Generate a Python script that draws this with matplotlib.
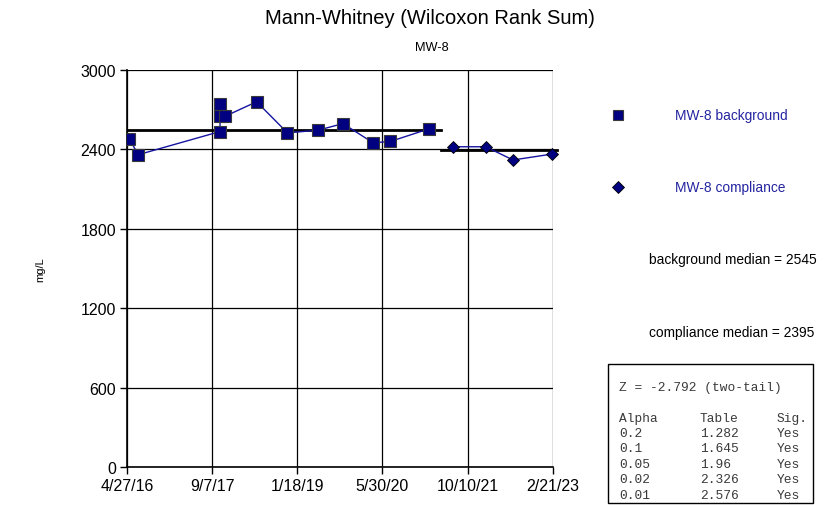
import matplotlib
matplotlib.use("Agg")
import matplotlib.pyplot as plt
import matplotlib.dates as mdates
import pandas as pd

plt.rcParams["font.family"] = ["Liberation Sans", "DejaVu Sans"]

# MW-8 sample results, mg/L (in the order they are joined by the line)
bg_dates = ["2016-05-10", "2016-07-02", "2017-10-23", "2017-10-23", "2017-10-23",
            "2017-11-21", "2018-05-25", "2018-11-21", "2019-05-19", "2019-10-12",
            "2020-04-05", "2020-07-15", "2021-02-25"]
bg_values = [2480, 2360, 2535, 2740, 2650, 2650, 2760, 2525, 2545, 2595, 2450, 2460, 2555]
comp_dates = ["2021-07-17", "2022-01-24", "2022-07-02", "2023-02-17"]
comp_values = [2420, 2420, 2320, 2365]

bg_median = 2545
comp_median = 2395
bg_median_span = ["2016-04-27", "2021-05-06"]
comp_median_span = ["2021-05-08", "2023-03-15"]

x_ticks = ["2016-04-27", "2017-09-07", "2019-01-18", "2020-05-30", "2021-10-10", "2023-02-21"]
x_tick_labels = ["4/27/16", "9/7/17", "1/18/19", "5/30/20", "10/10/21", "2/21/23"]
y_ticks = [0, 600, 1200, 1800, 2400, 3000]

z_stat = -2.792
alphas = ["0.2", "0.1", "0.05", "0.02", "0.01"]
table_vals = ["1.282", "1.645", "1.96", "2.326", "2.576"]
sig = ["Yes", "Yes", "Yes", "Yes", "Yes"]

navy = "#000080"
line_blue = "#1414a0"
label_blue = "#2424a0"
W, H = 837, 506


def fx(px):
    return px / W


def fy(py):
    return 1 - py / H


fig = plt.figure(figsize=(W / 100, H / 100), dpi=100)
ax = fig.add_axes([fx(127), fy(468), 426 / W, 397 / H])

ax.plot(pd.to_datetime(bg_dates), bg_values, color=line_blue, lw=1.0, marker="s",
        ms=8.2, mfc=navy, mec="#3a3a3a", mew=0.8, zorder=4)
ax.plot(pd.to_datetime(comp_dates), comp_values, color=line_blue, lw=1.0, marker="D",
        ms=6.5, mfc=navy, mec="black", mew=0.6, zorder=4, clip_on=False)

ax.plot(pd.to_datetime(bg_median_span), [bg_median] * 2, color="black", lw=2, zorder=2)
ax.plot(pd.to_datetime(comp_median_span), [comp_median] * 2, color="black", lw=2,
        zorder=2, clip_on=False)

xt = mdates.date2num(pd.to_datetime(x_ticks))
ax.set_xlim(xt[0], xt[-1])
ax.set_ylim(0, 3000)
ax.set_xticks(xt)
ax.set_xticklabels(x_tick_labels, fontsize=11.5)
ax.set_yticks(y_ticks)
ax.set_yticklabels([str(v) for v in y_ticks], fontsize=11.5)
ax.tick_params(axis="both", direction="out", length=5, width=1, pad=3)
ax.grid(True, color="black", lw=0.9)
for side in ["top", "right"]:
    ax.spines[side].set_visible(False)
for side in ["left", "bottom"]:
    ax.spines[side].set_linewidth(1.2)

fig.text(fx(430), fy(19), "Mann-Whitney (Wilcoxon Rank Sum)", ha="center",
         va="center", fontsize=14.5)
fig.text(fx(432), fy(48), "MW-8", ha="center", va="center", fontsize=9.2)
fig.text(fx(40), fy(270), "mg/L", ha="center", va="center", rotation=90, fontsize=8)

# legend drawn by hand at the right of the plot
fig.lines.append(plt.Line2D([fx(618)], [fy(116)], transform=fig.transFigure,
                            marker="s", ms=7.4, mfc=navy, mec="#3a3a3a", mew=0.8, ls="none"))
fig.lines.append(plt.Line2D([fx(618)], [fy(188)], transform=fig.transFigure,
                            marker="D", ms=6.0, mfc=navy, mec="black", mew=0.6, ls="none"))
fig.text(fx(675), fy(116), "MW-8 background", ha="left", va="center",
         fontsize=9.9, color=label_blue)
fig.text(fx(675), fy(188), "MW-8 compliance", ha="left", va="center",
         fontsize=9.9, color=label_blue)
fig.text(fx(649), fy(260), f"background median = {bg_median}", ha="left",
         va="center", fontsize=9.9)
fig.text(fx(649), fy(333), f"compliance median = {comp_median}", ha="left",
         va="center", fontsize=9.9)

# significance table
box = plt.Rectangle((fx(608), fy(504)), 205 / W, 139 / H,
                    transform=fig.transFigure, fill=False, ec="black", lw=1)
fig.patches.append(box)
mono = dict(family=["Liberation Mono", "DejaVu Sans Mono"], fontsize=9.3,
            color="#3a3a3a", va="center")
cols = [619, 700, 777]
fig.text(fx(cols[0]), fy(388), f"Z = {z_stat} (two-tail)", **mono)
for x, head in zip(cols, ["Alpha", "Table", "Sig."]):
    fig.text(fx(x), fy(419), head, **mono)
for i, (a, t, s) in enumerate(zip(alphas, table_vals, sig)):
    y = fy(434 + 15.5 * i)
    fig.text(fx(cols[0]), y, a, **mono)
    fig.text(fx(cols[1]), y, t, **mono)
    fig.text(fx(cols[2]), y, s, **mono)

fig.savefig("out.png", dpi=100)
